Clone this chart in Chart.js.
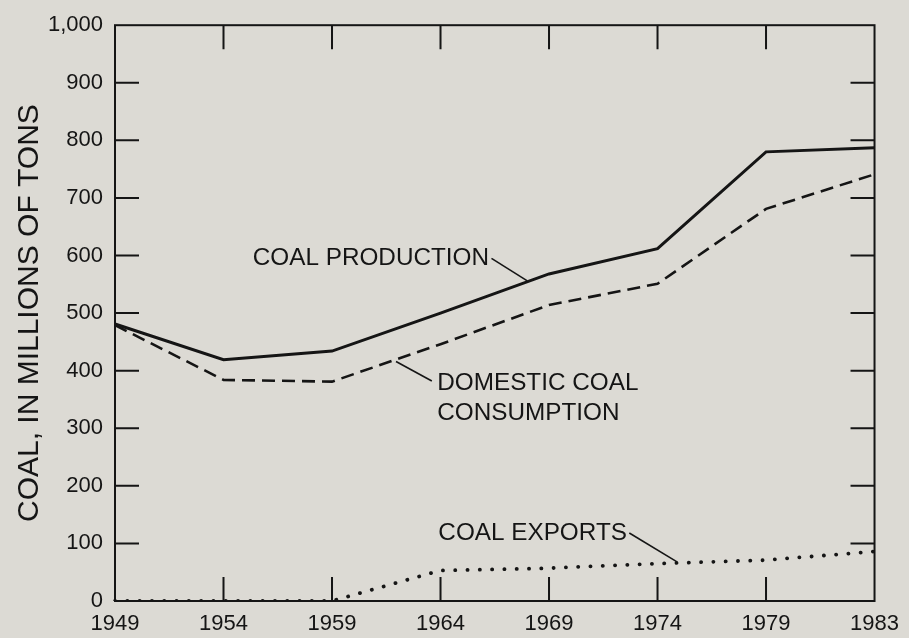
<!DOCTYPE html>
<html>
<head>
<meta charset="utf-8">
<title>Coal production, consumption and exports</title>
<script src="https://cdn.jsdelivr.net/npm/chart.js@4/dist/chart.umd.min.js"></script>
<style>
    html, body { margin: 0; padding: 0; background: #dcdad4; }
</style>
</head>
<body>
<canvas id="coalChart" width="909" height="638"></canvas>
<script>
// --- DATA (millions of tons) ---
const years = ['1949', '1954', '1959', '1964', '1969', '1974', '1979', '1983'];
const production = [481, 419, 434, 500, 568, 612, 780, 787];
const consumption = [479, 384, 381, 446, 514, 551, 681, 741];
const exportsCoal = [0, 0, 0, 53, 57, 65, 71, 86];
const yTicks = [0, 100, 200, 300, 400, 500, 600, 700, 800, 900, 1000];
const yTitle = 'COAL, IN MILLIONS OF TONS';

// --- LABELS ON THE PLOT (x = year index, y = value) ---
const notes = [
    { lines: ['COAL PRODUCTION'], x: 1.27, y: [583], leader: [[3.47, 595], [3.80, 556]] },
    { lines: ['DOMESTIC COAL', 'CONSUMPTION'], x: 2.97, y: [366, 314], leader: [[2.59, 416], [2.92, 382]] },
    { lines: ['COAL EXPORTS'], x: 2.98, y: [106], leader: [[4.74, 118], [5.18, 68]] }
];

const ink = '#151515';
const tickLen = 24;
const fontFamily = '"Liberation Sans", Arial, sans-serif';

// frame, inward ticks on all four sides, axis title and labels
const framePlugin = {
    id: 'frame',
    beforeDatasetsDraw(chart) {
        const { ctx, chartArea: a, scales: { x, y } } = chart;
        ctx.save();
        ctx.strokeStyle = ink;
        ctx.lineWidth = 2;
        ctx.strokeRect(a.left, a.top, a.right - a.left, a.bottom - a.top);
        ctx.beginPath();
        yTicks.slice(1, -1).forEach(v => {
            const py = y.getPixelForValue(v);
            ctx.moveTo(a.left, py); ctx.lineTo(a.left + tickLen, py);
            ctx.moveTo(a.right, py); ctx.lineTo(a.right - tickLen, py);
        });
        years.slice(1, -1).forEach((_, i) => {
            const px = x.getPixelForValue(i + 1);
            ctx.moveTo(px, a.top); ctx.lineTo(px, a.top + tickLen);
            ctx.moveTo(px, a.bottom); ctx.lineTo(px, a.bottom - tickLen);
        });
        ctx.stroke();
        ctx.restore();
    },
    afterDatasetsDraw(chart) {
        const { ctx, chartArea: a, scales: { x, y } } = chart;
        ctx.save();
        ctx.fillStyle = ink;
        ctx.strokeStyle = ink;

        // y axis title
        ctx.save();
        ctx.translate(30, (a.top + a.bottom) / 2);
        ctx.rotate(-Math.PI / 2);
        ctx.font = '30px ' + fontFamily;
        ctx.textAlign = 'center';
        ctx.textBaseline = 'middle';
        ctx.fillText(yTitle, 0, 0);
        ctx.restore();

        // curve labels + leader lines
        ctx.font = '24.3px ' + fontFamily;
        ctx.textAlign = 'left';
        ctx.textBaseline = 'alphabetic';
        ctx.lineWidth = 1.6;
        notes.forEach(n => {
            n.lines.forEach((t, k) => {
                ctx.fillText(t, x.getPixelForValue(n.x), y.getPixelForValue(n.y[k]));
            });
            ctx.beginPath();
            ctx.moveTo(x.getPixelForValue(n.leader[0][0]), y.getPixelForValue(n.leader[0][1]));
            ctx.lineTo(x.getPixelForValue(n.leader[1][0]), y.getPixelForValue(n.leader[1][1]));
            ctx.stroke();
        });
        ctx.restore();
    }
};

const chartData = {
    labels: years,
    datasets: [
        { label: 'Coal production', data: production, borderColor: ink, borderWidth: 3, pointRadius: 0, tension: 0 },
        { label: 'Domestic coal consumption', data: consumption, borderColor: ink, borderWidth: 2.6, borderDash: [13, 7], pointRadius: 0, tension: 0 },
        { label: 'Coal exports', data: exportsCoal, borderColor: ink, borderWidth: 3.8, borderDash: [0.1, 12.2], borderCapStyle: 'round', pointRadius: 0, tension: 0 }
    ]
};

const config = {
    type: 'line',
    data: chartData,
    plugins: [framePlugin],
    options: {
        responsive: false,
        animation: false,
        layout: { padding: { top: 25, right: 33, left: 0, bottom: 0 } },
        plugins: { legend: { display: false }, tooltip: { enabled: false } },
        scales: {
            x: {
                type: 'category',
                offset: false,
                grid: { display: false, drawTicks: false },
                border: { display: false },
                ticks: { color: ink, font: { family: fontFamily, size: 22 }, padding: 10, maxRotation: 0, autoSkip: false },
                afterFit: s => { s.height = 37; }
            },
            y: {
                min: 0,
                max: 1000,
                grid: { display: false, drawTicks: false },
                border: { display: false },
                afterBuildTicks: s => { s.ticks = yTicks.map(v => ({ value: v })); },
                ticks: {
                    color: ink,
                    font: { family: fontFamily, size: 22 },
                    padding: 12,
                    callback: v => v.toLocaleString('en-US')
                },
                afterFit: s => { s.width = 115; }
            }
        }
    }
};

new Chart(document.getElementById('coalChart'), config);
</script>
</body>
</html>
